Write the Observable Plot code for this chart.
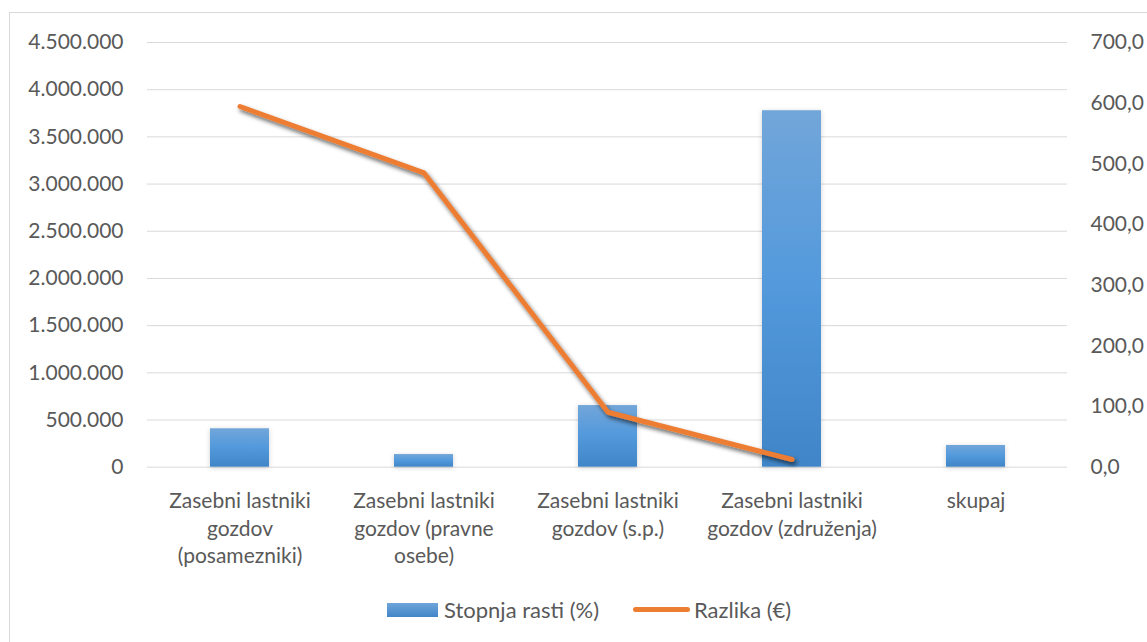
<!DOCTYPE html>
<html>
<head>
<meta charset="utf-8">
<script src="https://cdn.jsdelivr.net/npm/d3@7"></script>
<script src="https://cdn.jsdelivr.net/npm/@observablehq/plot@0.6"></script>
<style>
  html, body { margin: 0; padding: 0; background: #fff; overflow: hidden; }
  body { width: 1147px; height: 642px; position: relative; font-family: Lato, "Open Sans", sans-serif; }
  #frame { position: absolute; left: 9px; top: 12px; width: 1200px; height: 700px; border-left: 1px solid #d9d9d9; border-top: 1px solid #d9d9d9; }
  #chart { position: absolute; left: 0; top: 0; }
  #legend { position: absolute; top: 596px; left: 0; width: 1147px; height: 28px; font-size: 22px; color: #595959; }
  .sw-bar { position: absolute; left: 387px; top: 7px; width: 51px; height: 14px; background: linear-gradient(to bottom, #6fa5da, #4185c8); }
  .lab1 { position: absolute; left: 444px; top: 0px; }
  .sw-line { position: absolute; left: 633px; top: 11px; width: 57px; height: 5px; border-radius: 3px; background: #ed7d31; }
  .lab2 { position: absolute; left: 694px; top: 0px; }
</style>
</head>
<body>
<div id="frame"></div>
<div id="chart"></div>
<div id="legend">
  <div class="sw-bar"></div><div class="lab1">Stopnja rasti (%)</div>
  <div class="sw-line"></div><div class="lab2">Razlika (€)</div>
</div>
<script>
// ---- data ----
const categories = [
  "Zasebni lastniki gozdov (posamezniki)",
  "Zasebni lastniki gozdov (pravne osebe)",
  "Zasebni lastniki gozdov (s.p.)",
  "Zasebni lastniki gozdov (združenja)",
  "skupaj"
];
const tickLabels = [
  "Zasebni lastniki\ngozdov\n(posamezniki)",
  "Zasebni lastniki\ngozdov (pravne\nosebe)",
  "Zasebni lastniki\ngozdov (s.p.)",
  "Zasebni lastniki\ngozdov (združenja)",
  "skupaj"
];
const stopnjaRasti = [407000, 134000, 653000, 3777000, 230000];   // bars, left axis
const lineCategories = categories.slice(0, 4);
const razlika = [594.5, 485, 90.6, 12.7];                          // line, right axis
const leftTicks = [0, 500000, 1000000, 1500000, 2000000, 2500000, 3000000, 3500000, 4000000, 4500000];
const rightTicks = [0, 100, 200, 300, 400, 500, 600, 700];

// ---- scales helpers ----
const leftMax = 4500000, rightMax = 700;
const k = leftMax / rightMax;
const loc = d3.formatLocale({decimal: ",", thousands: ".", grouping: [3], currency: ["", "€"]});
const fmtLeft = loc.format(",d");
const fmtRight = d => loc.format(",.1f")(d / k);

const bars = categories.map((c, i) => ({cat: c, v: stopnjaRasti[i]}));
const pts = lineCategories.map((c, i) => ({cat: c, v: razlika[i] * k}));
const labelOf = new Map(categories.map((c, i) => [c, tickLabels[i]]));

const chart = Plot.plot({
  width: 1147,
  height: 585,
  marginTop: 42,
  marginBottom: 118.3,
  marginLeft: 147,
  marginRight: 80,
  style: {fontFamily: "Lato, 'Open Sans', sans-serif", fontSize: "21px", color: "#595959", background: "transparent"},
  x: {domain: categories, paddingInner: 0.68, paddingOuter: 0.34, label: null},
  y: {domain: [0, leftMax], label: null},
  marks: [
    Plot.gridY(leftTicks, {stroke: "#d9d9d9", strokeOpacity: 1, strokeWidth: 1}),
    Plot.barY(bars, {x: "cat", y: "v", fill: "url(#barGrad)", className: "bars"}),
    Plot.line(pts, {x: "cat", y: "v", stroke: "#ed7d31", strokeWidth: 5, strokeLinecap: "round", strokeLinejoin: "round", className: "razlika"}),
    Plot.axisY(leftTicks, {anchor: "left", tickSize: 0, tickPadding: 24, tickFormat: fmtLeft, fontSize: 21, fill: "#595959", label: null}),
    Plot.axisY(rightTicks.map(t => t * k), {anchor: "right", tickSize: 0, tickPadding: 23, tickFormat: fmtRight, fontSize: 21, fill: "#595959", textAnchor: "start", label: null}),
    Plot.axisX({tickSize: 0, tickPadding: 22, tickFormat: d => labelOf.get(d), fontSize: 21, lineHeight: 1.29, fill: "#595959", label: null})
  ]
});

// gradient + shadow definitions
const svg = d3.select(chart);
const defs = svg.insert("defs", ":first-child");
const g = defs.append("linearGradient").attr("id", "barGrad").attr("x1", 0).attr("y1", 0).attr("x2", 0).attr("y2", 1);
g.append("stop").attr("offset", "0%").attr("stop-color", "#72a6d9");
g.append("stop").attr("offset", "50%").attr("stop-color", "#5299dc");
g.append("stop").attr("offset", "100%").attr("stop-color", "#4085c7");
const f1 = defs.append("filter").attr("id", "lineShadow").attr("x", "-10%").attr("y", "-10%").attr("width", "130%").attr("height", "130%");
f1.append("feDropShadow").attr("dx", 2).attr("dy", 3).attr("stdDeviation", 2).attr("flood-color", "#000").attr("flood-opacity", 0.6);
const f2 = defs.append("filter").attr("id", "barShadow").attr("x", "-30%").attr("y", "-30%").attr("width", "160%").attr("height", "160%");
f2.append("feDropShadow").attr("dx", 0).attr("dy", 1).attr("stdDeviation", 2.5).attr("flood-color", "#000").attr("flood-opacity", 0.18);
svg.selectAll("g.bars rect").attr("filter", "url(#barShadow)");
svg.selectAll("g.razlika path").attr("filter", "url(#lineShadow)");

document.getElementById("chart").appendChild(chart);
</script>
</body>
</html>
